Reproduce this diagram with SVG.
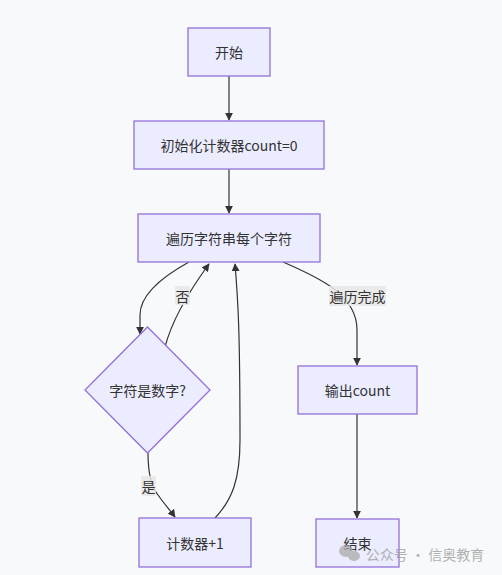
<svg xmlns="http://www.w3.org/2000/svg" width="502" height="575" viewBox="0 0 502 575">
<style>
.node rect,.node polygon{fill:#ECECFF;stroke:#9370DB;stroke-width:1.3}
text{font-family:"Noto Sans CJK SC","Liberation Sans",sans-serif;font-size:14px;fill:#333;text-anchor:middle;dominant-baseline:central}
.edge{fill:none;stroke:#333;stroke-width:1.2}
.lbl{fill:#e8e8e8;opacity:0.85}
</style>
<defs>
<marker id="arr" viewBox="0 0 10 10" refX="9" refY="5" markerWidth="8" markerHeight="8" markerUnits="userSpaceOnUse" orient="auto"><path d="M0,0L10,5L0,10z" fill="#333"/></marker>
</defs>
<rect width="502" height="575" fill="#f8f9fb"/>
<g id="connectors">
<path class="edge" d="M229,76L229,120" marker-end="url(#arr)"/>
<path class="edge" d="M229,169L229,213" marker-end="url(#arr)"/>
<path class="edge" d="M189,262C160,278 140,295 140,315L140,334" marker-end="url(#arr)"/>
<path class="edge" d="M165,347C172,320 190,290 209,264" marker-end="url(#arr)"/>
<path class="edge" d="M215,518C232,500 240,480 240,440C240,330 238,300 235,264" marker-end="url(#arr)"/>
<path class="edge" d="M148,453C148,470 150,485 158,495C165,505 170,510 175,517" marker-end="url(#arr)"/>
<path class="edge" d="M283,262C320,278 357,295 357,330L357,365" marker-end="url(#arr)"/>
<path class="edge" d="M357,414L357,518" marker-end="url(#arr)"/>
<g id="edge-labels">
<rect class="lbl" x="175" y="286" width="15" height="19"/><text x="182.5" y="296">否</text>
<rect class="lbl" x="141" y="476" width="15" height="20"/><text x="148.5" y="486">是</text>
<rect class="lbl" x="329" y="286" width="57" height="20"/><text x="357.5" y="296">遍历完成</text>
</g>
</g>
<g id="start" class="node"><rect x="188" y="28" width="82" height="48"/><text x="229" y="52">开始</text></g>
<g id="init" class="node"><rect x="134" y="121" width="190" height="48"/><text x="229" y="145">初始化计数器count=0</text></g>
<g id="loop" class="node"><rect x="138" y="214" width="182" height="48"/><text x="229" y="238">遍历字符串每个字符</text></g>
<g id="check" class="node"><polygon points="147.5,327 210,390 147.5,453 85,390"/><text x="147.5" y="390">字符是数字?</text></g>
<g id="inc" class="node"><rect x="139" y="518" width="112" height="49"/><text x="195" y="543">计数器+1</text></g>
<g id="output" class="node"><rect x="298" y="366" width="119" height="48"/><text x="357.5" y="390">输出count</text></g>
<g id="end" class="node"><rect x="316" y="519" width="83" height="48"/><text x="357.5" y="543">结束</text></g>
<g id="watermark" opacity="0.75">
<ellipse cx="346" cy="551" rx="7" ry="6" fill="#aaa"/>
<ellipse cx="354" cy="556" rx="6" ry="5" fill="#aaa"/>
<text x="425" y="554" style="fill:#999;font-size:14px">公众号 · 信奥教育</text>
</g>
</svg>
